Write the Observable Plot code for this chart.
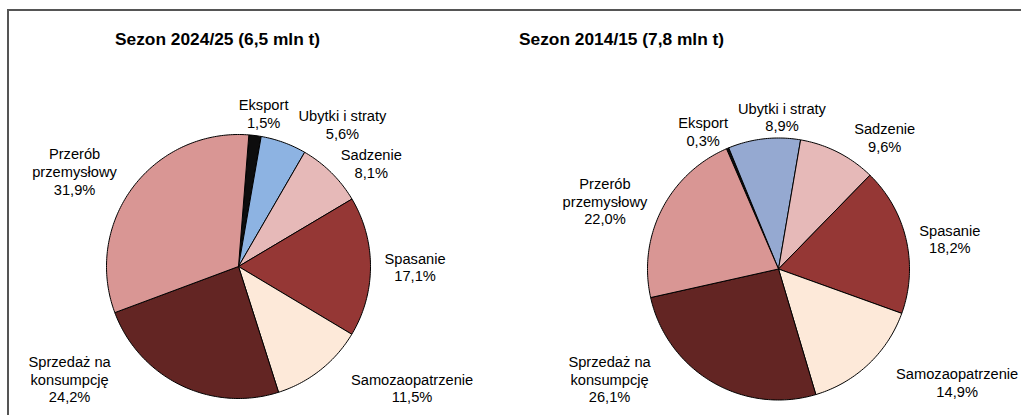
<!DOCTYPE html>
<html>
<head>
<meta charset="utf-8">
<script src="https://cdn.jsdelivr.net/npm/d3@7"></script>
<script src="https://cdn.jsdelivr.net/npm/@observablehq/plot@0.6"></script>
<style>
  body { margin: 0; background: #fff; font-family: "Liberation Sans", Arial, sans-serif; }
  #wrap { position: relative; width: 1021px; height: 415px; overflow: hidden; background: #fff; }
  #frame { position: absolute; left: 7px; top: 9px; width: 1100px; height: 500px;
           border-top: 2px solid #555; border-left: 2px solid #555; }
  .title { position: absolute; top: 29px; line-height: 20px; font-weight: bold; font-size: 17.33px; color: #000; white-space: nowrap; }
  .chart { position: absolute; top: 55px; }
</style>
</head>
<body>
<div id="wrap">
  <div id="frame"></div>
  <div class="title" id="title1" style="left:115px"></div>
  <div class="title" id="title2" style="left:519px"></div>
  <div class="chart" id="chart1" style="left:0px"></div>
  <div class="chart" id="chart2" style="left:510px"></div>
</div>
<script>
// ---- data ----
const categories = ["Eksport", "Ubytki i straty", "Sadzenie", "Spasanie", "Samozaopatrzenie", "Sprzedaż na konsumpcję", "Przerób przemysłowy"];
const categoryLabels = ["Eksport", "Ubytki i straty", "Sadzenie", "Spasanie", "Samozaopatrzenie", "Sprzedaż na\nkonsumpcję", "Przerób\nprzemysłowy"];
const titles = ["Sezon 2024/25 (6,5 mln t)", "Sezon 2014/15 (7,8 mln t)"];
const values2024 = [1.5, 5.6, 8.1, 17.1, 11.5, 24.2, 31.9];
const values2014 = [0.3, 8.9, 9.6, 18.2, 14.9, 26.1, 22.0];
const colors2024 = ["#0d0d0d", "#8db3e2", "#e6b9b8", "#953735", "#fde9d9", "#632523", "#d99694"];
const colors2014 = ["#0d0d0d", "#95a9d1", "#e6b9b8", "#953735", "#fde9d9", "#632523", "#d99694"];

// ---- layout ----
const FONT_SIZE = 14.67, LINE_H = 1.2;
const fmt = v => d3.format(".1f")(v).replace(".", ",");
const canvas = document.createElement("canvas");
const ctx = canvas.getContext("2d");
ctx.font = `${FONT_SIZE}px "Liberation Sans", Arial, sans-serif`;

function pie(values, colors, opt) {
  const {width, height, cx, cy, r, startDeg, top, bottom, right} = opt;
  const total = d3.sum(values);
  let acc = startDeg;
  const slices = values.map((v, i) => {
    const a0 = acc, a1 = acc + v / total * 360;
    acc = a1;
    return {cat: categories[i], v, a0, a1, mid: (a0 + a1) / 2, label: categoryLabels[i] + "\n" + fmt(v) + "%"};
  });
  // polygon points in unit coordinates
  const pts = [];
  for (const s of slices) {
    pts.push({cat: s.cat, x: 0, y: 0});
    const n = Math.max(2, Math.ceil(s.a1 - s.a0));
    for (let k = 0; k <= n; k++) {
      const a = (s.a0 + (s.a1 - s.a0) * k / n) * Math.PI / 180;
      pts.push({cat: s.cat, x: Math.sin(a), y: Math.cos(a)});
    }
    pts.push({cat: s.cat, x: 0, y: 0});
  }
  // label placement (pixel offsets from center, y down)
  const kx = 1.3, lh = FONT_SIZE * LINE_H, gap = 10;
  const labs = slices.map(s => {
    const lines = s.label.split("\n");
    const w = d3.max(lines, l => ctx.measureText(l).width);
    const h = lines.length * lh;
    const a = s.mid * Math.PI / 180;
    const g = 14 - 9 * Math.cos(a);
    let ux = Math.sin(a) * kx, uy = -Math.cos(a);
    const len = Math.hypot(ux, uy); ux /= len; uy /= len;
    const t = Math.min(Math.abs(ux) > 1e-6 ? (w / 2) / Math.abs(ux) : Infinity,
                       Math.abs(uy) > 1e-6 ? (h / 2) / Math.abs(uy) : Infinity);
    const d = r + g + t;
    let px = ux * d, py = uy * d;
    const py0 = py;
    py = Math.max(top - cy + h / 2, Math.min(bottom - cy - h / 2, py));
    const near = (x, y) => Math.hypot(Math.max(0, Math.abs(x) - w / 2), Math.max(0, Math.abs(y) - h / 2));
    if (py !== py0 || near(px, py) < r - 3) {
      // slide sideways off the circle
      const R = r + g;
      const dyn = Math.max(0, Math.abs(py) - h / 2);
      if (near(px, py) < R && dyn < R) {
        px = Math.sign(ux || 1) * (w / 2 + Math.sqrt(R * R - dyn * dyn));
      }
    }
    const m = ((s.mid + 180) % 360 + 360) % 360 - 180;
    return {text: s.label, px, py, w, h, order: m};
  });
  // sequential overlap resolution: later labels (clockwise) move away
  const ordered = labs.slice().sort((a, b) => a.order - b.order);
  for (let i = 1; i < ordered.length; i++) {
    const B = ordered[i];
    for (let j = 0; j < i; j++) {
      const A = ordered[j];
      const oy = (A.h + B.h) / 2 - Math.abs(A.py - B.py);
      const ox = (A.w + B.w) / 2 + gap - Math.abs(A.px - B.px);
      if (ox > 0 && oy > 0) B.px += (B.px >= A.px ? 1 : -1) * ox;
    }
  }
  for (const L of labs) L.px = Math.min(L.px, right - cx - L.w / 2);
  const labels = labs.map(l => ({text: l.text, x: l.px / r, y: -l.py / r}));

  return Plot.plot({
    width, height, margin: 0,
    style: {fontFamily: '"Liberation Sans", Arial, sans-serif', background: "transparent", overflow: "visible"},
    x: {domain: [-1, 1], range: [cx - r, cx + r], axis: null},
    y: {domain: [-1, 1], range: [cy + r, cy - r], axis: null},
    color: {domain: categories, range: colors},
    marks: [
      Plot.line(pts, {x: "x", y: "y", z: "cat", fill: "cat", stroke: "#000", strokeWidth: 1, curve: "linear", strokeLinejoin: "round"}),
      Plot.text(labels, {x: "x", y: "y", text: "text", fontSize: FONT_SIZE, lineHeight: LINE_H,
                         textAnchor: "middle", lineAnchor: "middle", fill: "#000"})
    ]
  });
}

document.getElementById("title1").textContent = titles[0];
document.getElementById("title2").textContent = titles[1];
document.getElementById("chart1").append(
  pie(values2024, colors2024, {width: 510, height: 360, cx: 238, cy: 211, r: 132, startDeg: 4.5, top: 84 - 55, bottom: 405 - 55, right: 510}));
document.getElementById("chart2").append(
  pie(values2014, colors2014, {width: 511, height: 360, cx: 268, cy: 213.5, r: 131, startDeg: -23.4, top: 84 - 55, bottom: 405 - 55, right: 510}));
</script>
</body>
</html>
